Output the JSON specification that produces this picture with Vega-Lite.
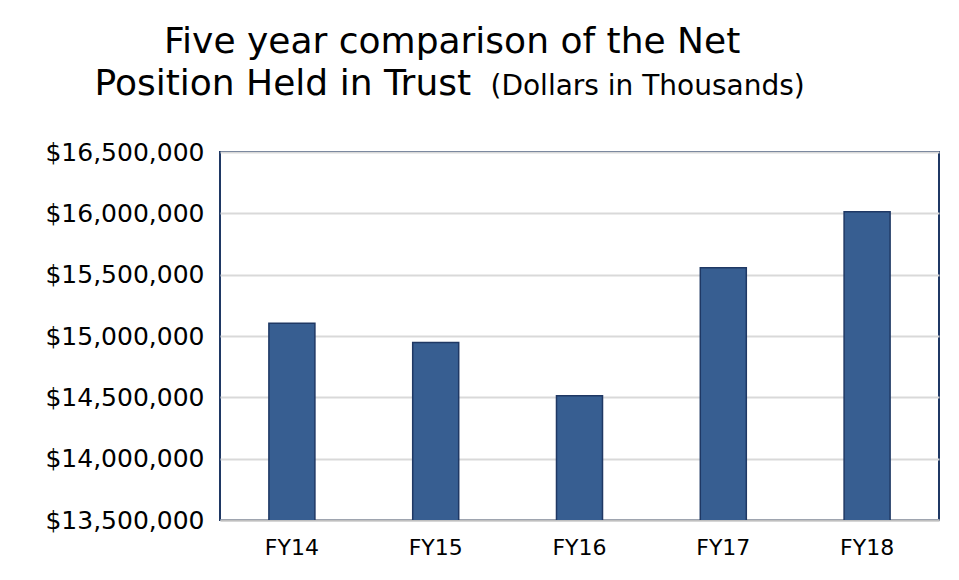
{
  "$schema": "https://vega.github.io/schema/vega-lite/v6.json",
  "width": 719,
  "height": 368,
  "autosize": {"type": "none"},
  "padding": {"left": 220, "top": 152, "right": 20, "bottom": 60},
  "background": "white",
  "title": {
    "text": "Five year comparison of the Net",
    "anchor": "start",
    "frame": "group",
    "dx": -56,
    "offset": -24,
    "fontSize": 36,
    "font": "DejaVu Sans",
    "fontWeight": "normal",
    "color": "#000000",
    "baseline": "alphabetic"
  },
  "data": {
    "values": [
      {"year": "FY14", "value": 15104000},
      {"year": "FY15", "value": 14947000},
      {"year": "FY16", "value": 14513000},
      {"year": "FY17", "value": 15557000},
      {"year": "FY18", "value": 16013000}
    ]
  },
  "mark": {"type": "bar", "fill": "#375E91", "stroke": "#1F3864", "strokeWidth": 1.5, "clip": true},
  "encoding": {
    "x": {
      "field": "year",
      "type": "nominal",
      "sort": null,
      "scale": {"paddingInner": 0.68, "paddingOuter": 0.34},
      "axis": {
        "title": "(Dollars in Thousands)",
        "titleX": 270,
        "titleY": -426,
        "titleAlign": "left",
        "titleBaseline": "alphabetic",
        "titleFontSize": 28,
        "titleFont": "DejaVu Sans",
        "titleFontWeight": "normal",
        "titleColor": "#000000",
        "labelAngle": 0,
        "labelFont": "DejaVu Sans",
        "labelFontSize": 22,
        "labelColor": "#000000",
        "labelPadding": 17,
        "ticks": false,
        "domainColor": "#BFBFBF",
        "domainWidth": 2
      }
    },
    "y": {
      "field": "value",
      "type": "quantitative",
      "scale": {"domain": [13500000, 16500000], "nice": false, "zero": false},
      "axis": {
        "title": "Position Held in Trust",
        "titleAngle": 0,
        "titleX": -126,
        "titleY": -58,
        "titleAlign": "left",
        "titleBaseline": "alphabetic",
        "titleFontSize": 36,
        "titleFont": "DejaVu Sans",
        "titleFontWeight": "normal",
        "titleColor": "#000000",
        "values": [13500000, 14000000, 14500000, 15000000, 15500000, 16000000, 16500000],
        "format": "$,.0f",
        "labelFont": "DejaVu Sans",
        "labelFontSize": 25,
        "labelColor": "#000000",
        "labelPadding": 16,
        "ticks": false,
        "domain": false,
        "gridColor": "#D9D9D9",
        "gridWidth": 2
      }
    }
  },
  "config": {
    "view": {"stroke": "#1F3864", "strokeWidth": 2}
  }
}
